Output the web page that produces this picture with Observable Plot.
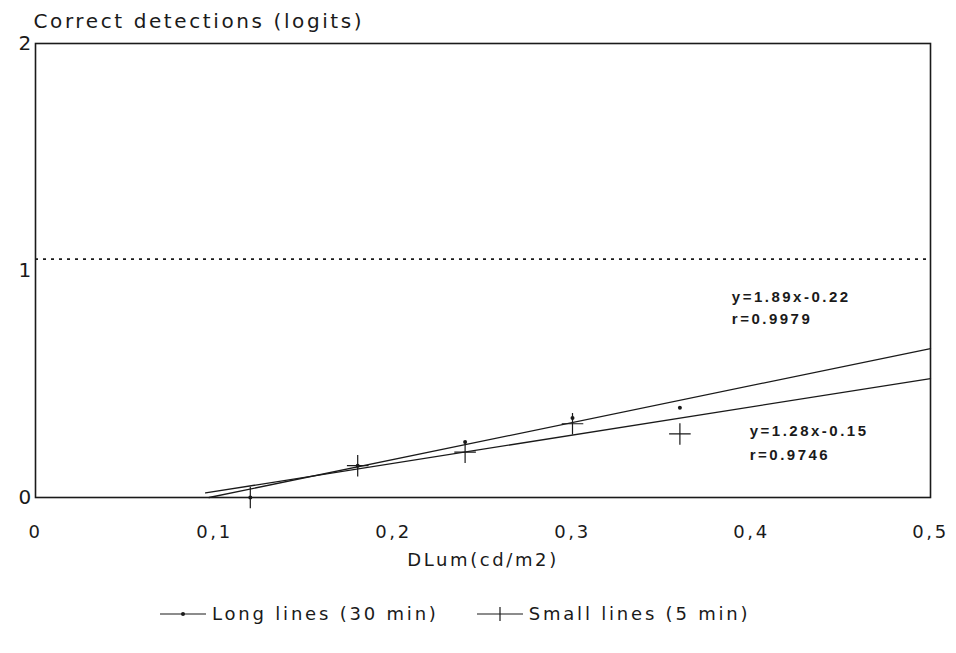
<!DOCTYPE html>
<html>
<head>
<meta charset="utf-8">
<script src="https://cdn.jsdelivr.net/npm/d3@7"></script>
<script src="https://cdn.jsdelivr.net/npm/@observablehq/plot@0.6"></script>
<style>
  body { margin: 0; background: #fff; }
  #chart svg text { letter-spacing: 2.6px; }
  .legend { display: flex; gap: 38px; margin-left: 160px; margin-top: 18px;
            font-family: "DejaVu Sans", sans-serif; font-size: 18px; letter-spacing: 2.8px; color: #1a1a1a; }
  .legend span { display: inline-flex; align-items: center; gap: 6px; }
</style>
</head>
<body>
<div id="chart"></div>
<script>
// ---- data ----
const yTitle = "Correct detections (logits)";
const xTitle = "DLum(cd/m2)";
const xTicks = [0, 0.1, 0.2, 0.3, 0.4, 0.5];
const xTickLabels = ["0", "0,1", "0,2", "0,3", "0,4", "0,5"];
const yTicks = [0, 1, 2];
const yTickLabels = ["0", "1", "2"];
const dlum = [0.12, 0.18, 0.24, 0.30, 0.36];
const longLines = [0.0, 0.14, 0.245, 0.35, 0.395];   // Long lines (30 min)
const smallLines = [0.0, 0.14, 0.20, 0.325, 0.28];   // Small lines (5 min)
const longFitX = [0.097, 0.5];
const longFit = [0.0, 0.656];
const smallFitX = [0.095, 0.5];
const smallFit = [0.02, 0.524];
const refLevel = 1.05;
const longEq = ["y=1.89x-0.22", "r=0.9979"];
const smallEq = ["y=1.28x-0.15", "r=0.9746"];
const longEqAt = {x: 0.389, y: [0.881, 0.785]};
const smallEqAt = {x: 0.399, y: [0.29, 0.185]};
const seriesNames = ["Long lines (30 min)", "Small lines (5 min)"];

const font = "DejaVu Sans, sans-serif";
const ink = "#1a1a1a";
const pts = dlum.map((x, i) => ({x, long: longLines[i], small: smallLines[i]}));
const fitLong = longFitX.map((x, i) => ({x, y: longFit[i]}));
const fitSmall = smallFitX.map((x, i) => ({x, y: smallFit[i]}));
const xt = xTicks.map((v, i) => ({v, label: xTickLabels[i]}));
const yt = yTicks.map((v, i) => ({v, label: yTickLabels[i]}));
const eqs = [
  ...longEq.map((t, i) => ({t, x: longEqAt.x, y: longEqAt.y[i]})),
  ...smallEq.map((t, i) => ({t, x: smallEqAt.x, y: smallEqAt.y[i]}))
];

const plot = Plot.plot({
  width: 956,
  height: 585,
  marginLeft: 35,
  marginRight: 26,
  marginTop: 43,
  marginBottom: 88,
  style: {fontFamily: font, color: ink, background: "#fff", overflow: "visible"},
  x: {domain: [0, 0.5], axis: null},
  y: {domain: [0, 2], axis: null},
  marks: [
    Plot.ruleY([refLevel], {stroke: ink, strokeWidth: 1.6, strokeDasharray: "3,5"}),
    Plot.line(fitLong, {x: "x", y: "y", stroke: ink, strokeWidth: 1.3}),
    Plot.line(fitSmall, {x: "x", y: "y", stroke: ink, strokeWidth: 1.3}),
    Plot.dot(pts, {x: "x", y: "long", r: 2, fill: ink, stroke: null}),
    Plot.dot(pts, {x: "x", y: "small", symbol: "plus", r: 7, stroke: ink, strokeWidth: 1.2, clip: false}),
    Plot.frame({stroke: ink, strokeWidth: 1.6}),
    // tick labels
    Plot.text(xt, {x: "v", text: "label", frameAnchor: "bottom", lineAnchor: "middle", dy: 35, fontSize: 18, fill: ink}),
    Plot.text(yt, {y: "v", text: "label", frameAnchor: "left", lineAnchor: "middle", dx: -17, fontSize: 20, fill: ink}),
    // axis titles
    Plot.text([yTitle], {frameAnchor: "top-left", lineAnchor: "middle", dy: -22, dx: -2, textAnchor: "start", fontSize: 20, fill: ink}),
    Plot.text([xTitle], {frameAnchor: "bottom", lineAnchor: "middle", dy: 63, fontSize: 18, fill: ink}),
    // regression annotations
    Plot.text(eqs, {x: "x", y: "y", text: "t", textAnchor: "start", lineAnchor: "middle",
      fontSize: 15, fontWeight: "bold", fontFamily: "Liberation Sans, Arial, sans-serif", fill: ink})
  ]
});
document.getElementById("chart").appendChild(plot);
// spacing for the bold regression annotations
d3.select(plot).selectAll("text").filter(function() {
  return [...longEq, ...smallEq].includes(this.textContent);
}).style("letter-spacing", "2.5px");

// legend (HTML, below the SVG)
const legend = document.createElement("div");
legend.className = "legend";
const sw1 = `<svg width="46" height="12"><line x1="0" y1="6" x2="46" y2="6" stroke="${ink}" stroke-width="1.2"/><circle cx="23" cy="6" r="2" fill="${ink}"/></svg>`;
const sw2 = `<svg width="46" height="16"><line x1="0" y1="8" x2="46" y2="8" stroke="${ink}" stroke-width="1.2"/><line x1="23" y1="1" x2="23" y2="15" stroke="${ink}" stroke-width="1.2"/></svg>`;
legend.innerHTML = `<span>${sw1}${seriesNames[0]}</span><span>${sw2}${seriesNames[1]}</span>`;
document.body.appendChild(legend);
</script>
</body>
</html>
